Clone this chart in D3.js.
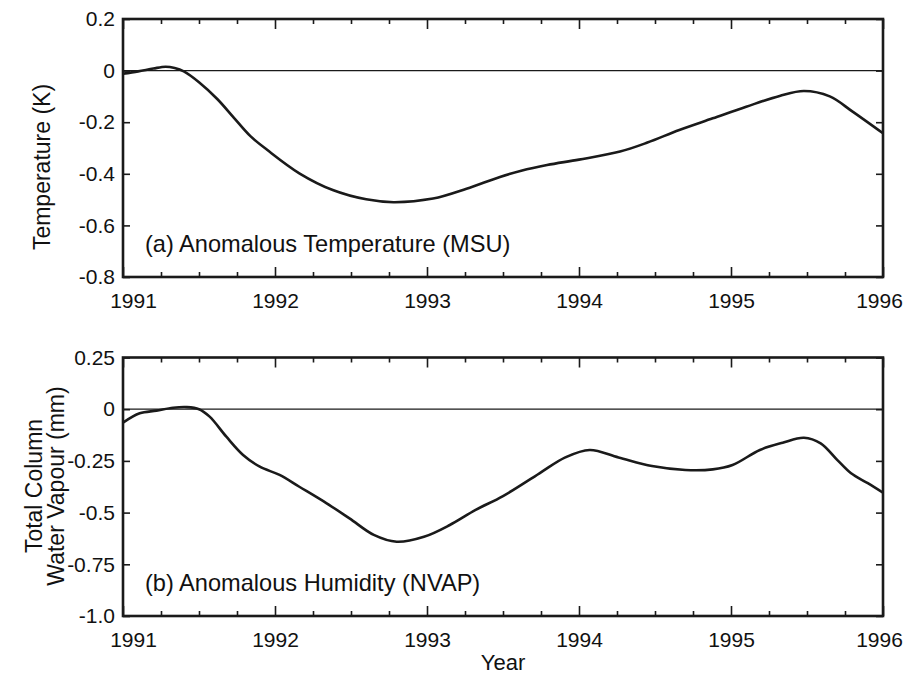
<!DOCTYPE html>
<html>
<head>
<meta charset="utf-8">
<script src="https://cdn.jsdelivr.net/npm/d3@7"></script>
<style>
  html, body { margin: 0; padding: 0; background: #fff; }
  svg { display: block; font-family: "Liberation Sans", Arial, Helvetica, sans-serif; }
</style>
</head>
<body>
<svg id="chart" width="905" height="674"></svg>
<script>
// Anomalous temperature (MSU), K
const tempYears  = [1991.0, 1991.1, 1991.2, 1991.28, 1991.34, 1991.4, 1991.5, 1991.62, 1991.73, 1991.84, 1991.95,
                    1992.16, 1992.38, 1992.6, 1992.78, 1993.04, 1993.26, 1993.48, 1993.62, 1993.79, 1994.0,
                    1994.27, 1994.45, 1994.66, 1994.88, 1995.1, 1995.32, 1995.48, 1995.65, 1995.8, 1996.0];
const tempValues = [-0.012, -0.003, 0.008, 0.015, 0.01, -0.003, -0.045, -0.11, -0.183, -0.255, -0.308,
                    -0.398, -0.463, -0.499, -0.51, -0.496, -0.458, -0.412, -0.388, -0.366, -0.345,
                    -0.314, -0.279, -0.23, -0.185, -0.14, -0.098, -0.079, -0.1, -0.159, -0.243];

// Anomalous total column water vapour (NVAP), mm
const humYears  = [1991.0, 1991.11, 1991.22, 1991.33, 1991.42, 1991.5, 1991.57, 1991.68, 1991.79, 1991.9, 1992.03,
                   1992.16, 1992.34, 1992.49, 1992.65, 1992.8, 1992.98, 1993.15, 1993.32, 1993.5, 1993.74,
                   1993.91, 1994.07, 1994.26, 1994.48, 1994.7, 1994.88, 1995.01, 1995.19, 1995.34, 1995.48,
                   1995.59, 1995.7, 1995.79, 1995.9, 1996.0];
const humValues = [-0.065, -0.02, -0.007, 0.007, 0.01, 0.0, -0.036, -0.133, -0.221, -0.278, -0.318,
                   -0.375, -0.455, -0.528, -0.608, -0.641, -0.617, -0.56, -0.487, -0.42, -0.31,
                   -0.233, -0.197, -0.233, -0.275, -0.294, -0.291, -0.27, -0.197, -0.162, -0.138,
                   -0.165, -0.246, -0.31, -0.358, -0.404];

// Axis ticks
const yearTicks   = [1991, 1992, 1993, 1994, 1995, 1996];
const quarterTicks = [1991.25, 1991.5, 1991.75, 1992.25, 1992.5, 1992.75, 1993.25, 1993.5, 1993.75,
                      1994.25, 1994.5, 1994.75, 1995.25, 1995.5, 1995.75];
const tempTicks = [0.2, 0, -0.2, -0.4, -0.6, -0.8];
const tempTickLabels = ["0.2", "0", "-0.2", "-0.4", "-0.6", "-0.8"];
const humTicks = [0.25, 0, -0.25, -0.5, -0.75, -1.0];
const humTickLabels = ["0.25", "0", "-0.25", "-0.5", "-0.75", "-1.0"];

const ink = "#1a1a1a";
const svg = d3.select("#chart");

const x = d3.scaleLinear().domain([1991, 1996]).range([123, 883]);

function drawPanel(opts) {
  const y = d3.scaleLinear().domain(opts.domain).range([opts.top, opts.bottom]);
  const g = svg.append("g");

  // zero reference line
  g.append("line")
    .attr("x1", x.range()[0]).attr("x2", x.range()[1])
    .attr("y1", y(0)).attr("y2", y(0))
    .attr("stroke", ink).attr("stroke-width", 1.2);

  // bottom axis: year labels, inward ticks
  const gb = g.append("g").attr("transform", `translate(0,${opts.bottom})`);
  gb.call(d3.axisBottom(x).tickValues(yearTicks).tickSize(-10).tickPadding(16).tickFormat(d3.format("d")));
  gb.append("g").call(d3.axisBottom(x).tickValues(quarterTicks).tickSize(-5).tickFormat(""));
  // top axis: inward ticks only
  const gt = g.append("g").attr("transform", `translate(0,${opts.top})`);
  gt.call(d3.axisTop(x).tickValues(yearTicks).tickSize(-10).tickFormat(""));
  gt.append("g").call(d3.axisTop(x).tickValues(quarterTicks).tickSize(-5).tickFormat(""));
  // left axis with labels, right axis ticks only
  const gl = g.append("g").attr("transform", `translate(${x.range()[0]},0)`);
  gl.call(d3.axisLeft(y).tickValues(opts.ticks).tickSize(-7).tickPadding(8)
    .tickFormat((d, i) => opts.labels[i]));
  const gr = g.append("g").attr("transform", `translate(${x.range()[1]},0)`);
  gr.call(d3.axisRight(y).tickValues(opts.ticks).tickSize(-7).tickFormat(""));

  [gb, gt, gl, gr].forEach(a => {
    a.selectAll(".domain").remove();
    a.selectAll("line").attr("stroke", ink).attr("stroke-width", 1.6);
    a.selectAll("text").attr("fill", "#111").style("font-size", "21px");
  });
  // keep the end year labels inside the page edge
  gb.selectAll(".tick text").attr("dx", d => d === 1991 ? 10 : d === 1996 ? -4 : 0);

  // data curve
  const line = d3.line()
    .x(d => x(d[0])).y(d => y(d[1]))
    .curve(d3.curveCatmullRom.alpha(0.5));
  g.append("path")
    .datum(d3.zip(opts.years, opts.values))
    .attr("d", line)
    .attr("fill", "none").attr("stroke", ink)
    .attr("stroke-width", 2.6).attr("stroke-linejoin", "round");

  // frame
  g.append("rect")
    .attr("x", x.range()[0]).attr("y", opts.top)
    .attr("width", x.range()[1] - x.range()[0]).attr("height", opts.bottom - opts.top)
    .attr("fill", "none").attr("stroke", ink).attr("stroke-width", 2.6);

  // panel caption
  g.append("text")
    .attr("x", 145).attr("y", opts.captionY)
    .attr("fill", "#111").style("font-size", "23.6px")
    .text(opts.caption);

  return { g, y };
}

drawPanel({
  domain: [0.2, -0.8], top: 19, bottom: 277,
  ticks: tempTicks, labels: tempTickLabels,
  years: tempYears, values: tempValues,
  caption: "(a) Anomalous Temperature (MSU)", captionY: 252
});

drawPanel({
  domain: [0.25, -1.0], top: 357.5, bottom: 616,
  ticks: humTicks, labels: humTickLabels,
  years: humYears, values: humValues,
  caption: "(b) Anomalous Humidity (NVAP)", captionY: 591
});

// axis titles
svg.append("text")
  .attr("transform", "translate(50,167) rotate(-90)")
  .attr("text-anchor", "middle").attr("fill", "#111").style("font-size", "23px")
  .text("Temperature (K)");

const wv = svg.append("text")
  .attr("transform", "translate(0,486) rotate(-90)")
  .attr("text-anchor", "middle").attr("fill", "#111").style("font-size", "23px");
wv.append("tspan").attr("x", 0).attr("y", 42).text("Total Column");
wv.append("tspan").attr("x", 0).attr("y", 64).text("Water Vapour (mm)");

svg.append("text")
  .attr("x", (x.range()[0] + x.range()[1]) / 2).attr("y", 670)
  .attr("text-anchor", "middle").attr("fill", "#111").style("font-size", "22px")
  .text("Year");
</script>
</body>
</html>
